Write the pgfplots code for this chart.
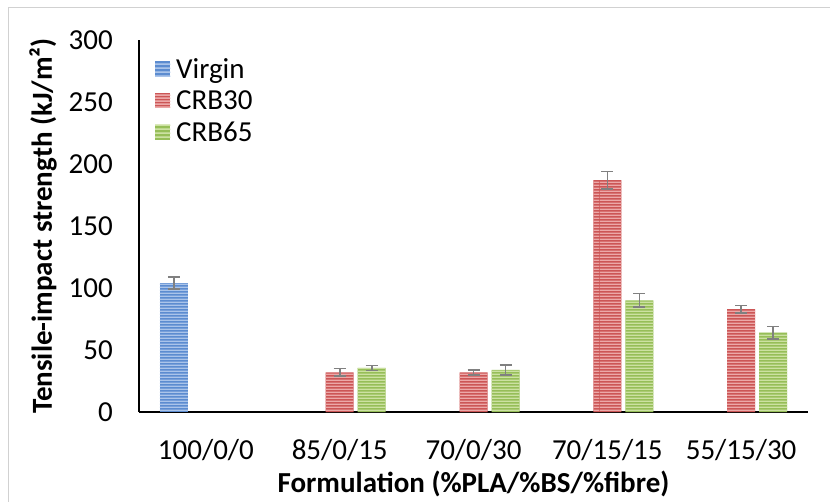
\documentclass[border=0pt]{standalone}
\usepackage{fontspec}
\setmainfont{Carlito}
\usepackage{pgfplots}
\pgfplotsset{compat=1.18}
\usetikzlibrary{patterns}
\definecolor{blueBase}{RGB}{92,140,208}
\definecolor{blueLight}{RGB}{170,196,234}
\definecolor{redBase}{RGB}{204,86,86}
\definecolor{redLight}{RGB}{236,168,168}
\definecolor{greenBase}{RGB}{150,190,88}
\definecolor{greenLight}{RGB}{204,225,162}
\definecolor{errGray}{RGB}{128,128,128}
\pgfdeclarepatternformonly{hstripes}{\pgfpointorigin}{\pgfpoint{200bp}{3.4bp}}{\pgfpoint{200bp}{3.4bp}}{%
  \pgfpathrectangle{\pgfpoint{0bp}{0bp}}{\pgfpoint{200bp}{1.5bp}}\pgfusepath{fill}}
\begin{document}
\begin{tikzpicture}
\useasboundingbox (0,0) rectangle (830bp,502bp);
\draw[black!18, line width=1.5bp] (8.5bp,-20bp) -- (8.5bp,494.5bp) -- (850bp,494.5bp);
\begin{axis}[
  at={(139bp,90bp)}, anchor=south west,
  scale only axis, width=669bp, height=372bp,
  ybar=4bp, bar width=28bp,
  xmin=-0.5, xmax=4.5, ymin=0, ymax=300,
  ytick={0,50,...,300},
  xtick={0,1,2,3,4},
  xticklabels={100/0/0,85/0/15,70/0/30,70/15/15,55/15/30},
  axis x line*=bottom, axis y line*=left,
  axis line style={black, line width=1.5bp},
  major tick length=0pt,
  /pgf/number format/assume math mode=true,
  tick label style={font=\fontsize{29bp}{34bp}\selectfont},
  yticklabel style={anchor=east, inner sep=0pt, xshift=-26bp},
  xticklabel style={anchor=north, inner sep=0pt, yshift=-27bp},
  xlabel={\bfseries Formulation (\%PLA/\%BS/\%fibre)},
  ylabel={\bfseries Tensile-impact strength (kJ/m²)},
  label style={font=\fontsize{29bp}{34bp}\selectfont},
  xlabel style={at={([yshift=-80bp]axis description cs:0.5,0)}, anchor=base, inner sep=0pt},
  ylabel style={at={([xshift=-87bp]axis description cs:0,0.5)}, anchor=base, inner sep=0pt},
  legend style={at={([xshift=16bp,yshift=-17bp]axis description cs:0,1)}, anchor=north west, draw=none, fill=none,
    font=\fontsize{29bp}{34bp}\selectfont, row sep=9bp, inner sep=0pt,
    nodes={inner sep=1bp},
    /tikz/every odd column/.append style={column sep=5bp}},
  legend cell align=left,
  legend image code/.code={\fill[#1] (0bp,-7.5bp) rectangle (15bp,7.5bp);
     \fill[pattern=hstripes,#1] (0bp,-7.5bp) rectangle (15bp,7.5bp);},
  error bars/error bar style={errGray, line width=1.6bp},
  error bars/error mark options={errGray, rotate=90, mark size=6bp, line width=1.6bp},
  clip=false,
]
\addplot[draw=none, fill=blueBase, pattern color=blueLight,
  postaction={pattern=hstripes, pattern color=blueLight},
  error bars/.cd, y dir=both, y explicit]
  coordinates {(0,104) +- (0,5)};
\addplot[draw=none, fill=redBase, pattern color=redLight,
  postaction={pattern=hstripes, pattern color=redLight},
  error bars/.cd, y dir=both, y explicit]
  coordinates {(1,32) +- (0,3) (2,32) +- (0,2) (3,187) +- (0,7) (4,83) +- (0,3)};
\addplot[draw=none, fill=greenBase, pattern color=greenLight,
  postaction={pattern=hstripes, pattern color=greenLight},
  error bars/.cd, y dir=both, y explicit]
  coordinates {(1,35.5) +- (0,2) (2,34) +- (0,4) (3,90) +- (0,5.5) (4,64) +- (0,5)};
\legend{Virgin,CRB30,CRB65}
\end{axis}
\end{tikzpicture}
\end{document}
